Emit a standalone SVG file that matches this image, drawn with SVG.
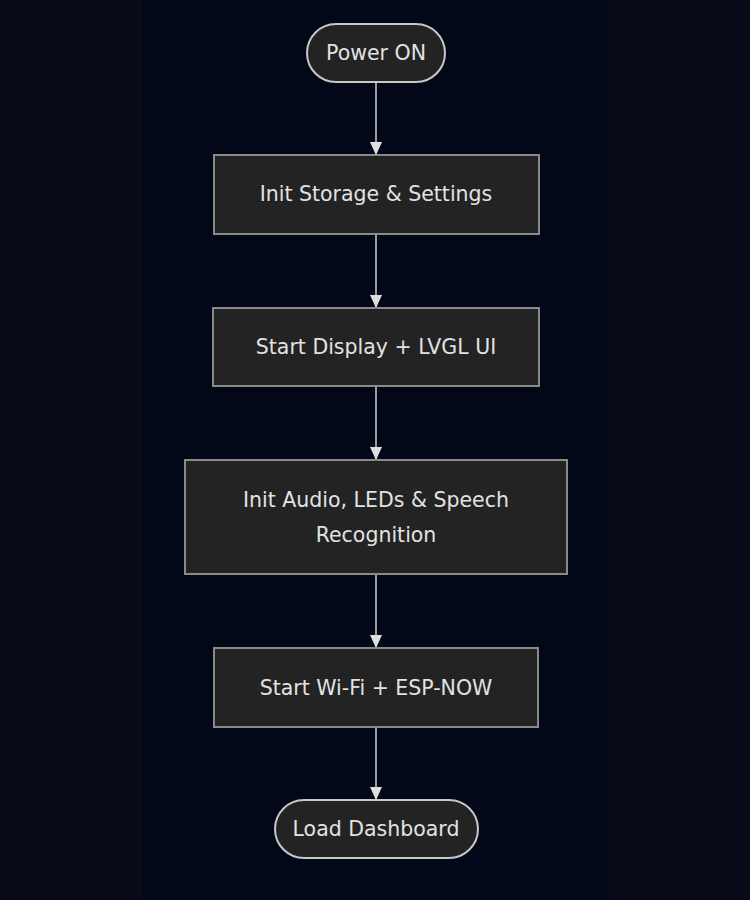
<svg xmlns="http://www.w3.org/2000/svg" width="750" height="900" viewBox="0 0 750 900">
<defs>
<style>
.bg{fill:#070b17}
.panel{fill:#020817}
.node rect{fill:#232323;stroke:#8a8a8a;stroke-width:2}
.node rect.term{stroke:#c8c8c8}
.node text{fill:#e2e2e2;font-family:"DejaVu Sans",sans-serif;font-size:20.5px;text-anchor:middle;dominant-baseline:central}
.edge{stroke:#cfcfcf;stroke-width:1.5;fill:none}
.head{fill:#e0e0e0}
</style>
</defs>
<rect class="bg" x="0" y="0" width="750" height="900"/>
<rect class="panel" x="142" y="0" width="467" height="900"/>
<g id="connectors">
<path class="edge" d="M376,82 V154"/>
<path class="edge" d="M376,234 V307"/>
<path class="edge" d="M376,386 V459"/>
<path class="edge" d="M376,574 V647"/>
<path class="edge" d="M376,727 V799"/>
<path class="head" d="M370,142 L382,142 L376,155 z"/>
<path class="head" d="M370,295 L382,295 L376,308 z"/>
<path class="head" d="M370,447 L382,447 L376,460 z"/>
<path class="head" d="M370,635 L382,635 L376,648 z"/>
<path class="head" d="M370,787 L382,787 L376,800 z"/>
</g>
<g id="power" class="node">
<rect class="term" x="307" y="24" width="138" height="58" rx="29"/>
<text x="376" y="53">Power ON</text>
</g>
<g id="storage" class="node">
<rect x="214" y="155" width="325" height="79"/>
<text x="376" y="194">Init Storage &amp; Settings</text>
</g>
<g id="display" class="node">
<rect x="213" y="308" width="326" height="78"/>
<text x="376" y="347">Start Display + LVGL UI</text>
</g>
<g id="audio" class="node">
<rect x="185" y="460" width="382" height="114"/>
<text x="376" y="500">Init Audio, LEDs &amp; Speech</text>
<text x="376" y="535">Recognition</text>
</g>
<g id="wifi" class="node">
<rect x="214" y="648" width="324" height="79"/>
<text x="376" y="688">Start Wi-Fi + ESP-NOW</text>
</g>
<g id="dashboard" class="node">
<rect class="term" x="275" y="800" width="203" height="58" rx="29"/>
<text x="376" y="829">Load Dashboard</text>
</g>
</svg>
